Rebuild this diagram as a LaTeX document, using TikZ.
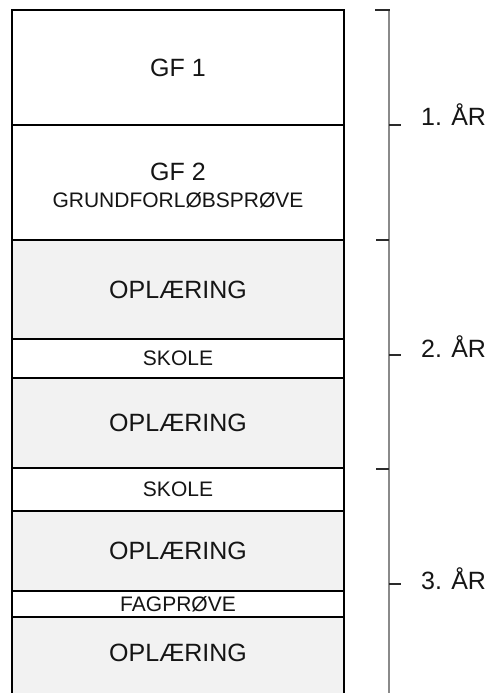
\documentclass[tikz,border=0pt]{standalone}
\usepackage{fontspec}
\setmainfont{Liberation Sans}
\definecolor{oplfill}{HTML}{F2F2F2}
\definecolor{bracegray}{HTML}{8A8A8A}
\definecolor{tickdark}{HTML}{2A2A2A}
\definecolor{txt}{HTML}{151515}
\begin{document}
\begin{tikzpicture}[x=1bp,y=-1bp,
  box/.style={draw=black, line width=1.2bp, anchor=north west, minimum width=332bp,
    inner sep=0pt, outer sep=0pt, align=center, text=txt},
  big/.style={font=\fontsize{25bp}{30bp}\selectfont},
  small/.style={font=\fontsize{21bp}{25bp}\selectfont},
  train/.style={fill=oplfill},
  school/.style={fill=white},
  thickline/.style={draw=black, line width=2.6bp},
  brace/.style={draw=bracegray, line width=2.2bp},
  tick/.style={draw=tickdark, line width=2bp},
  yearlab/.style={anchor=base west, text=txt, font=\fontsize{25bp}{30bp}\selectfont}]
\useasboundingbox (0,0) rectangle (489,693);
% boxes
\node[box, school, big, minimum height=115bp] (gf1) at (12,10) {GF 1};
\node[box, school, minimum height=115bp] (gf2) at (12,125) {};
\node[anchor=base, big, text=txt, inner sep=0pt] (gf2a) at (178,180) {GF 2};
\node[anchor=base, small, text=txt, inner sep=0pt] (gf2b) at (178,207) {GRUNDFORLØBSPRØVE};
\node[box, train, big, minimum height=99bp] (opl1) at (12,240) {OPLÆRING};
\node[box, school, small, minimum height=39bp] (sk1) at (12,339) {SKOLE};
\node[box, train, big, minimum height=90bp] (opl2) at (12,378) {OPLÆRING};
\node[box, school, small, minimum height=43bp] (sk2) at (12,468) {SKOLE};
\node[box, train, big, minimum height=80bp] (opl3) at (12,511) {OPLÆRING};
\node[box, school, small, minimum height=26bp] (fag) at (12,591) {FAGPRØVE};
\node[box, train, minimum height=100bp] (opl4) at (12,617) {};
\node[big, text=txt, inner sep=0pt] (opl4t) at (178,653) {OPLÆRING};
% thicker separators
\draw[thickline] (opl2.south west) -- (opl2.south east);
\draw[thickline] (opl3.south west) -- (opl3.south east);
% braces: gray spine
\coordinate (sp1) at (389,10);
\coordinate (sp2) at (389,700);
\draw[brace] (sp1) -- (sp2);
% dark hooks
\coordinate (h1a) at (375,10);  \coordinate (h1b) at (390,10);
\coordinate (h2a) at (376,240); \coordinate (h2b) at (389,240);
\coordinate (h3a) at (376,469); \coordinate (h3b) at (389,469);
\draw[tick] (h1a) -- (h1b);
\draw[tick] (h2a) -- (h2b);
\draw[tick] (h3a) -- (h3b);
% dark ticks to the labels
\coordinate (t1a) at (389,125); \coordinate (t1b) at (401,125);
\coordinate (t2a) at (389,355); \coordinate (t2b) at (401,355);
\coordinate (t3a) at (389,584); \coordinate (t3b) at (401,584);
\draw[tick] (t1a) -- (t1b);
\draw[tick] (t2a) -- (t2b);
\draw[tick] (t3a) -- (t3b);
% year labels
\node[yearlab, inner sep=0pt] (y1) at (421,126) {1. ÅR};
\node[yearlab, inner sep=0pt] (y2) at (421,357) {2. ÅR};
\node[yearlab, inner sep=0pt] (y3) at (421,589) {3. ÅR};
\end{tikzpicture}
\end{document}
